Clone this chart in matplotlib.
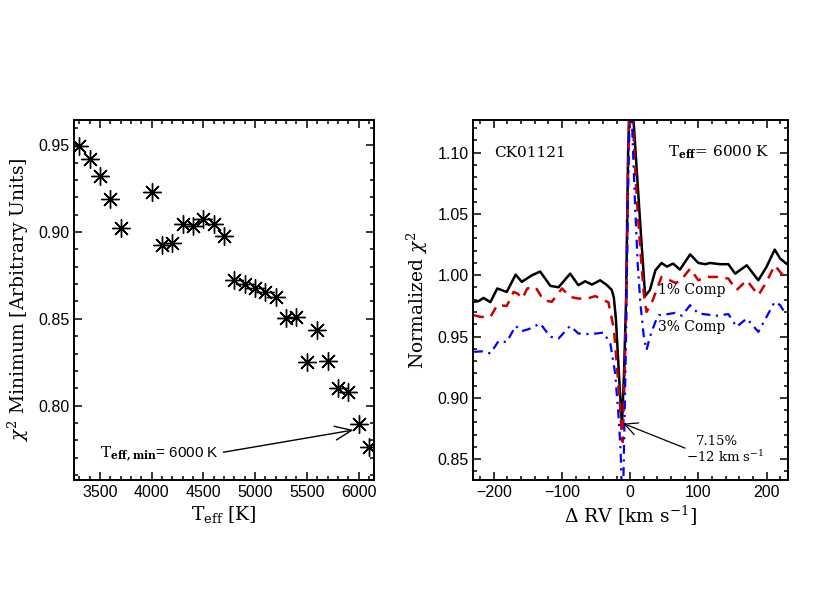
import matplotlib
matplotlib.use("Agg")
import matplotlib.pyplot as plt
from matplotlib.ticker import MultipleLocator, FormatStrFormatter

# ---- Left panel data ----
teff = [3300, 3400, 3500, 3600, 3700, 4000, 4100, 4200, 4300, 4400, 4500, 4600, 4700,
        4800, 4900, 5000, 5100, 5200, 5300, 5400, 5500, 5600, 5700, 5800, 5900, 6000, 6100]
chi2_min = [0.9494, 0.9423, 0.9320, 0.9190, 0.9025, 0.9230, 0.8927, 0.8937, 0.9048, 0.9035,
            0.9077, 0.9048, 0.8979, 0.8725, 0.8702, 0.8678, 0.8656, 0.8627, 0.8505, 0.8508,
            0.8254, 0.8437, 0.8260, 0.8104, 0.8078, 0.7895, 0.7764]

# ---- Right panel data ----
rv_black = [-229, -222, -215, -205, -195, -181, -168, -159, -144, -132, -117, -105, -88, -76,
            -66, -56, -44, -34, -27, -24, -21, -18, -15, -12, -9, -6, -3, 0, 3, 5, 10, 15,
            22, 29, 37, 46, 54, 63, 73, 88, 100, 110, 117, 132, 144, 154, 171, 188, 200,
            212, 220, 229]
chi_black = [0.9783, 0.9790, 0.9815, 0.9780, 0.9892, 0.9864, 1.0005, 0.9946, 1.0000, 1.0030,
             0.9913, 0.9902, 1.0013, 0.9919, 0.9951, 0.9924, 0.9959, 0.9919, 0.9880, 0.9820,
             0.9650, 0.9350, 0.9050, 0.8780, 0.9200, 0.9800, 1.1000, 1.1600, 1.1500, 1.1260,
             1.0830, 1.0400, 0.9830, 0.9880, 1.0040, 1.0100, 1.0070, 1.0095, 1.0046, 1.0170,
             1.0100, 1.0090, 1.0100, 1.0090, 1.0090, 1.0013, 1.0081, 0.9959, 1.0068, 1.0209,
             1.0136, 1.0095]

rv_red = [-229, -219, -205, -195, -181, -171, -165, -158, -151, -139, -127, -115, -100, -88,
          -76, -63, -51, -41, -32, -24, -20, -15, -12, -11, -9, -6, -3, 0, 3, 6, 10, 15, 20,
          24, 32, 46, 54, 66, 73, 88, 100, 112, 127, 144, 156, 171, 188, 200, 212, 222, 229]
chi_red = [0.9674, 0.9660, 0.9660, 0.9756, 0.9750, 0.9864, 0.9850, 0.9810, 0.9892, 0.9905,
           0.9796, 0.9783, 0.9892, 0.9823, 0.9810, 0.9810, 0.9830, 0.9800, 0.9780, 0.9566,
           0.9300, 0.8950, 0.8670, 0.8640, 0.9000, 0.9700, 1.0900, 1.1600, 1.1400, 1.1000,
           1.0600, 1.0200, 0.9850, 0.9700, 0.9780, 0.9986, 0.9970, 0.9938, 0.9950, 1.0054,
           0.9959, 0.9986, 0.9986, 0.9973, 0.9878, 0.9959, 0.9837, 0.9946, 1.0081, 1.0013,
           0.9965]

rv_blue = [-229, -215, -205, -193, -181, -168, -159, -149, -132, -117, -105, -88, -76, -61,
           -49, -39, -29, -22, -17, -14, -11, -9, -6, -3, 0, 3, 7, 11, 15, 20, 24, 29, 37,
           42, 54, 66, 76, 88, 100, 112, 127, 144, 156, 171, 188, 200, 212, 220, 229]
chi_blue = [0.9375, 0.9380, 0.9362, 0.9463, 0.9455, 0.9587, 0.9544, 0.9560, 0.9606, 0.9498,
            0.9484, 0.9587, 0.9525, 0.9520, 0.9525, 0.9533, 0.9440, 0.9200, 0.8850, 0.8570,
            0.8000, 0.8600, 0.9500, 1.0700, 1.1500, 1.1200, 1.0600, 1.0100, 0.9770, 0.9500,
            0.9390, 0.9498, 0.9620, 0.9674, 0.9682, 0.9693, 0.9670, 0.9756, 0.9688, 0.9680,
            0.9670, 0.9683, 0.9579, 0.9647, 0.9538, 0.9660, 0.9783, 0.9756, 0.9674]

plt.rcParams['mathtext.fontset'] = 'dejavuserif'
plt.rcParams['xtick.direction'] = 'in'
plt.rcParams['ytick.direction'] = 'in'

TICKFONT = dict(family='Liberation Sans', size=11.5)
LABFONT = dict(family='DejaVu Serif', size=13.5)

fig = plt.figure(figsize=(8.3, 6.0), dpi=100)
ax1 = fig.add_axes([0.0892, 0.2, 0.3608, 0.6008])
ax2 = fig.add_axes([0.5703, 0.2, 0.3795, 0.6008])

def style(ax):
    for s in ax.spines.values():
        s.set_linewidth(1.4)
    ax.tick_params(which='both', top=True, right=True, width=1.1)
    ax.tick_params(which='major', length=5.5)
    ax.tick_params(which='minor', length=2.7)
    for lab in ax.get_xticklabels() + ax.get_yticklabels():
        lab.set_fontfamily(TICKFONT['family'])
        lab.set_fontsize(TICKFONT['size'])

# Left panel
ax1.plot(teff, chi2_min, linestyle='none', marker=(8, 2, 0), markersize=13,
         markeredgewidth=1.0, color='black')
ax1.plot(teff, chi2_min, linestyle='none', marker='o', markersize=2.5, color='black')
ax1.set_xlim(3248, 6145)
ax1.set_ylim(0.7572, 0.9648)
ax1.xaxis.set_major_locator(MultipleLocator(500))
ax1.xaxis.set_minor_locator(MultipleLocator(100))
ax1.yaxis.set_major_locator(MultipleLocator(0.05))
ax1.yaxis.set_minor_locator(MultipleLocator(0.01))
ax1.yaxis.set_major_formatter(FormatStrFormatter('%.2f'))
ax1.set_xlabel(r'T$_{\rm eff}$ [K]', fontdict=LABFONT, labelpad=3)
ax1.set_ylabel(r'$\chi^2$ Minimum [Arbitrary Units]', fontdict=LABFONT, labelpad=5)
style(ax1)
ax1.annotate('', xy=(5951, 0.7860), xytext=(4693, 0.7732),
             arrowprops=dict(arrowstyle='->,head_length=1.2,head_width=0.5',
                             lw=1.0, color='black', shrinkA=0, shrinkB=0))
ax1.text(3500, 0.7722, r'$\mathrm{T}_{\mathbf{eff,min}}$= 6000 K', family='Liberation Sans',
         fontsize=11, ha='left', va='center')

# Right panel
ax2.plot(rv_black, chi_black, color='black', lw=1.8, solid_joinstyle='round')
ax2.plot(rv_red, chi_red, color='#cc0000', lw=1.8, dashes=(4, 3))
ax2.plot(rv_blue, chi_blue, color='#0000ff', lw=1.6, dashes=(4, 2.5, 1, 2.5))
ax2.set_xlim(-230, 232)
ax2.set_ylim(0.833, 1.127)
ax2.xaxis.set_major_locator(MultipleLocator(100))
ax2.xaxis.set_minor_locator(MultipleLocator(20))
ax2.yaxis.set_major_locator(MultipleLocator(0.05))
ax2.yaxis.set_minor_locator(MultipleLocator(0.01))
ax2.yaxis.set_major_formatter(FormatStrFormatter('%.2f'))
ax2.set_xlabel(r'$\Delta$ RV [km s$^{-1}$]', fontdict=LABFONT, labelpad=3)
ax2.set_ylabel(r'Normalized $\chi^2$', fontdict=LABFONT, labelpad=5)
style(ax2)
ax2.text(-200, 1.10, 'CK01121', family='DejaVu Serif', fontsize=11, ha='left', va='center')
ax2.text(205, 1.10, r'$\mathrm{T}_{\mathbf{eff}}$= 6000 K', family='DejaVu Serif',
         fontsize=11, ha='right', va='center')
ax2.text(41, 0.9878, '1% Comp', family='DejaVu Serif', fontsize=10, ha='left', va='center')
ax2.text(41, 0.958, '3% Comp', family='DejaVu Serif', fontsize=10, ha='left', va='center')
ax2.annotate('', xy=(-9.8, 0.879), xytext=(80.5, 0.859),
             arrowprops=dict(arrowstyle='->,head_length=0.9,head_width=0.45',
                             lw=0.9, color='black', shrinkA=0, shrinkB=0))
ax2.text(128, 0.8640, '7.15%', family='DejaVu Serif', fontsize=9.5, ha='center', va='center')
ax2.text(140, 0.8515, r'$-$12 km s$^{-1}$', family='DejaVu Serif', fontsize=9.5,
         ha='center', va='center')

fig.savefig('out.png', dpi=100)
